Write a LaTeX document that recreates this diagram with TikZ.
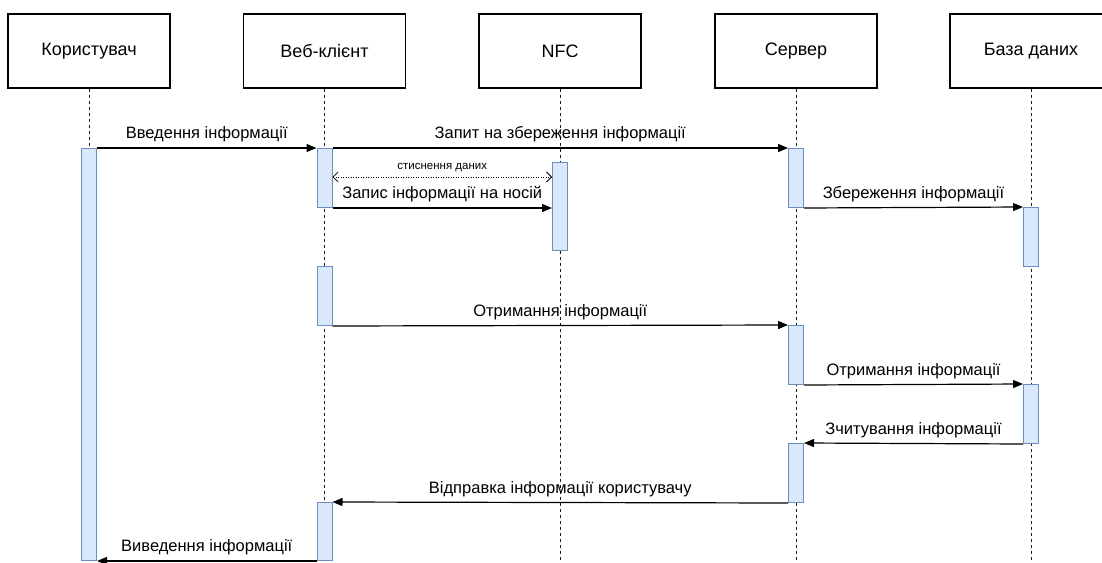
\documentclass[tikz,border=0pt]{standalone}
\usepackage{fontspec}
\setmainfont{Liberation Sans}
\usetikzlibrary{arrows.meta}
\definecolor{actfill}{HTML}{DAE8FC}
\definecolor{actdraw}{HTML}{6C8EBF}
\tikzset{
  header/.style={draw, line width=1.2pt, minimum width=162pt, minimum height=74pt, inner sep=0pt, font=\fontsize{18}{21}\selectfont},
  act/.style={draw=actdraw, fill=actfill, line width=1pt, minimum width=15pt, inner sep=0pt, anchor=north},
  lifeline/.style={line width=1pt, draw=black!90, dash pattern=on 3pt off 3pt},
  msg/.style={line width=1.2pt, -{Triangle[length=10pt,width=8pt]}},
  lbl/.style={font=\fontsize{16.5}{19}\selectfont, above=2pt, midway},
  smalllbl/.style={font=\fontsize{11.5}{13}\selectfont, above=1pt, midway}
}
\begin{document}
\begin{tikzpicture}[x=1pt, y=-1pt]
\useasboundingbox (0,0) rectangle (1102,562);
% headers
\node[header] (hU) at (89,51) {Користувач};
\node[header] (hW) at (324.5,51) {Веб-клієнт};
\node[header] (hN) at (560,51) {NFC};
\node[header] (hS) at (796,51) {Сервер};
\node[header] (hD) at (1031,51) {База даних};
\coordinate (bot) at (0,562);
% lifelines
\foreach \h in {hU,hW,hN,hS,hD}
  \draw[lifeline] (\h.south) -- (\h.south |- bot);
% activation bars
\node[act, minimum height=412pt] (u1) at (89,148) {};
\node[act, minimum height=59pt] (w1) at (324.5,148) {};
\node[act, minimum height=59pt] (w2) at (324.5,266) {};
\node[act, minimum height=58pt] (w3) at (324.5,502) {};
\node[act, minimum height=88pt] (n1) at (560,162) {};
\node[act, minimum height=59pt] (s1) at (796,148) {};
\node[act, minimum height=59pt] (s2) at (796,325) {};
\node[act, minimum height=59pt] (s3) at (796,443) {};
\node[act, minimum height=59pt] (d1) at (1031,207) {};
\node[act, minimum height=59pt] (d2) at (1031,384) {};
% messages
\coordinate (cy) at (0,177);
\draw[msg] (u1.north east) -- node[lbl] {Введення інформації} (w1.north west);
\draw[msg] (w1.north east) -- node[lbl] {Запит на збереження інформації} (s1.north west);
\draw[line width=0.8pt, dash pattern=on 1pt off 1.5pt, {Straight Barb[length=5pt,width=10pt]}-{Straight Barb[length=5pt,width=10pt]}]
  (w1.east |- cy) -- node[smalllbl] {стиснення даних} (n1.west |- cy);
\draw[msg] (w1.south east) -- node[lbl] {Запис інформації на носій} (n1.west |- w1.south);
\draw[msg] (s1.south east) -- node[lbl] {Збереження інформації} (d1.north west);
\draw[msg] (w2.south east) -- node[lbl] {Отримання інформації} (s2.north west);
\draw[msg] (s2.south east) -- node[lbl] {Отримання інформації} (d2.north west);
\draw[msg] (d2.south west) -- node[lbl] {Зчитування інформації} (s3.north east);
\draw[msg] (s3.south west) -- node[lbl] {Відправка інформації користувачу} (w3.north east);
\draw[msg] (w3.south west) -- node[lbl] {Виведення інформації} (u1.south east);
\end{tikzpicture}
\end{document}
